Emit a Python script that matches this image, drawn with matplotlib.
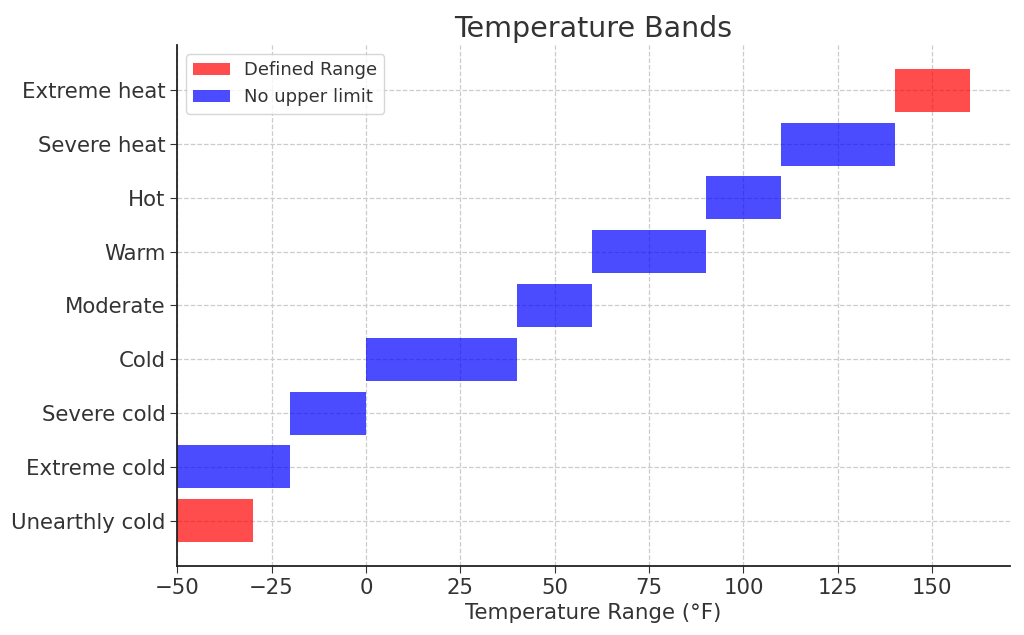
import matplotlib.pyplot as plt

categories = ["Unearthly cold", "Extreme cold", "Severe cold", "Cold", "Moderate",
              "Warm", "Hot", "Severe heat", "Extreme heat"]
starts = [-50, -50, -20, 0, 40, 60, 90, 110, 140]
ends = [-30, -20, 0, 40, 60, 90, 110, 140, 160]
defined = [True, False, False, False, False, False, False, False, True]

plt.rcParams["text.color"] = "#333333"
plt.rcParams["axes.labelcolor"] = "#333333"
plt.rcParams["xtick.color"] = "#333333"
plt.rcParams["ytick.color"] = "#333333"

fig, ax = plt.subplots(figsize=(10.24, 6.35), dpi=100)
fig.subplots_adjust(left=0.173, right=0.986, top=0.929, bottom=0.109)

widths = [e - s for s, e in zip(starts, ends)]
colors = ["red" if d else "blue" for d in defined]
ax.barh(categories, widths, left=starts, color=colors, alpha=0.7, height=0.8)

ax.barh([0], [0], color="red", alpha=0.7, label="Defined Range")
ax.barh([0], [0], color="blue", alpha=0.7, label="No upper limit")

ax.set_xlim(-50, 170.5)
ax.set_title("Temperature Bands", fontsize=20.5)
ax.set_xlabel("Temperature Range (°F)", fontsize=15.4)
ax.tick_params(axis="both", labelsize=15.3, length=5)
ax.grid(True, linestyle="--", color="#cccccc", linewidth=0.9)
ax.set_axisbelow(True)
for s in ["top", "right"]:
    ax.spines[s].set_visible(False)
for s in ["left", "bottom"]:
    ax.spines[s].set_linewidth(1.3)
    ax.spines[s].set_color("#222222")
ax.legend(loc="upper left", fontsize=13)

plt.savefig("out.png")
